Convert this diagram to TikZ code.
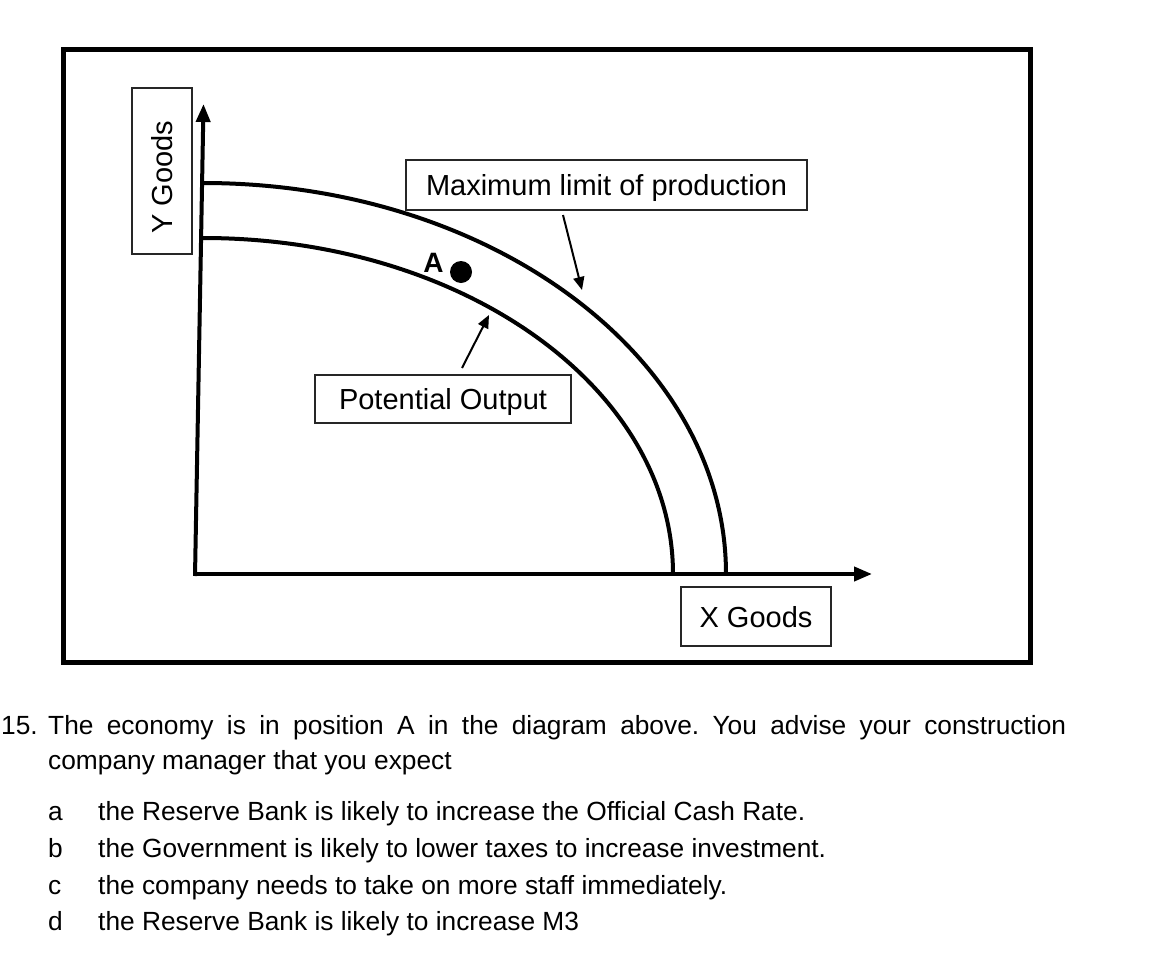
\documentclass[tikz,border=0pt]{standalone}
\usepackage{fontspec}
\setmainfont{Liberation Sans}
\usetikzlibrary{arrows.meta,positioning,calc}
\frenchspacing

\begin{document}
\begin{tikzpicture}[
		x=1pt, y=-1pt,
		every node/.style={inner sep=0pt},
		labelbox/.style={
				draw=black!85,
				line width=1.3pt,
				font=\fontsize{29}{34}\selectfont,
				text depth=0pt,
				align=center
			},
		axis/.style={line width=4pt, -{Triangle[length=18pt,width=14pt]}},
		ppf/.style={line width=4pt},
		callout/.style={line width=2pt, -{Triangle[length=13pt,width=11pt]}},
		qtext/.style={anchor=base west, font=\fontsize{26.3}{37}\selectfont}
	]
	\useasboundingbox (0,0) rectangle (1156,969);

	% frame
	\draw[line width=5pt] (63.5,49.5) rectangle (1030,662.5);

	% axes
	\coordinate (origin) at (195,574);
	\coordinate (ytop) at (203.5,104);
	\coordinate (xend) at (872,574);
	\draw[axis] ([yshift=-2pt]origin) -- (ytop);
	\draw[axis] ([xshift=-2pt]origin) -- (xend);

	% production possibility curves
	\coordinate (outstart) at (203,183);
	\coordinate (outend) at (726,574);
	\coordinate (instart) at (203,238);
	\coordinate (inend) at (673,574);
	\draw[ppf] (outstart) .. controls (492,183) and (726,358) .. (outend);
	\draw[ppf] (instart) .. controls (463,238) and (673,388) .. (inend);

	% point A
	\node[circle, fill=black, minimum size=22pt] (pointA) at (461,272) {};
	\node[font=\bfseries\fontsize{28}{34}\selectfont] (labelA) at (433.5,263) {A};

	% labels
	\node[labelbox, minimum width=401pt, minimum height=50pt] (maxbox) at (606.5,185) {Maximum limit of production};
	\node[labelbox, minimum width=256pt, minimum height=48pt] (potbox) at (443,399) {Potential Output};
	\node[labelbox, minimum width=150pt, minimum height=59pt] (xbox) at (756,616.5) {X Goods};
	\node[labelbox, rotate=90, minimum width=166pt, minimum height=60pt] (ybox) at (162,171) {Y Goods\hspace*{13pt}};

	\coordinate (maxtail) at (563,215);
	\coordinate (maxtip) at (582,290);
	\coordinate (pottail) at (462,368);
	\coordinate (pottip) at (489,315);
	\draw[callout] (maxtail) -- (maxtip);
	\draw[callout] (pottail) -- (pottip);

	% question
	\node[qtext, anchor=base east] (qnum) at (38,734) {15.};
	\node[qtext] (qline1) at (48,734) {\makebox[1018pt][s]{The economy is in position A in the diagram above. You advise your construction}};
	\node[qtext] (qline2) at (48,769) {company manager that you expect};

	\node[qtext] (opta) at (48,820) {a};
	\node[qtext] (optb) at (48,857) {b};
	\node[qtext] (optc) at (48,894) {c};
	\node[qtext] (optd) at (48,930) {d};
	\node[qtext] (ansa) at (98,820) {the Reserve Bank is likely to increase the Official Cash Rate.};
	\node[qtext] (ansb) at (98,857) {the Government is likely to lower taxes to increase investment.};
	\node[qtext] (ansc) at (98,894) {the company needs to take on more staff immediately.};
	\node[qtext] (ansd) at (98,930) {the Reserve Bank is likely to increase M3};
\end{tikzpicture}
\end{document}
